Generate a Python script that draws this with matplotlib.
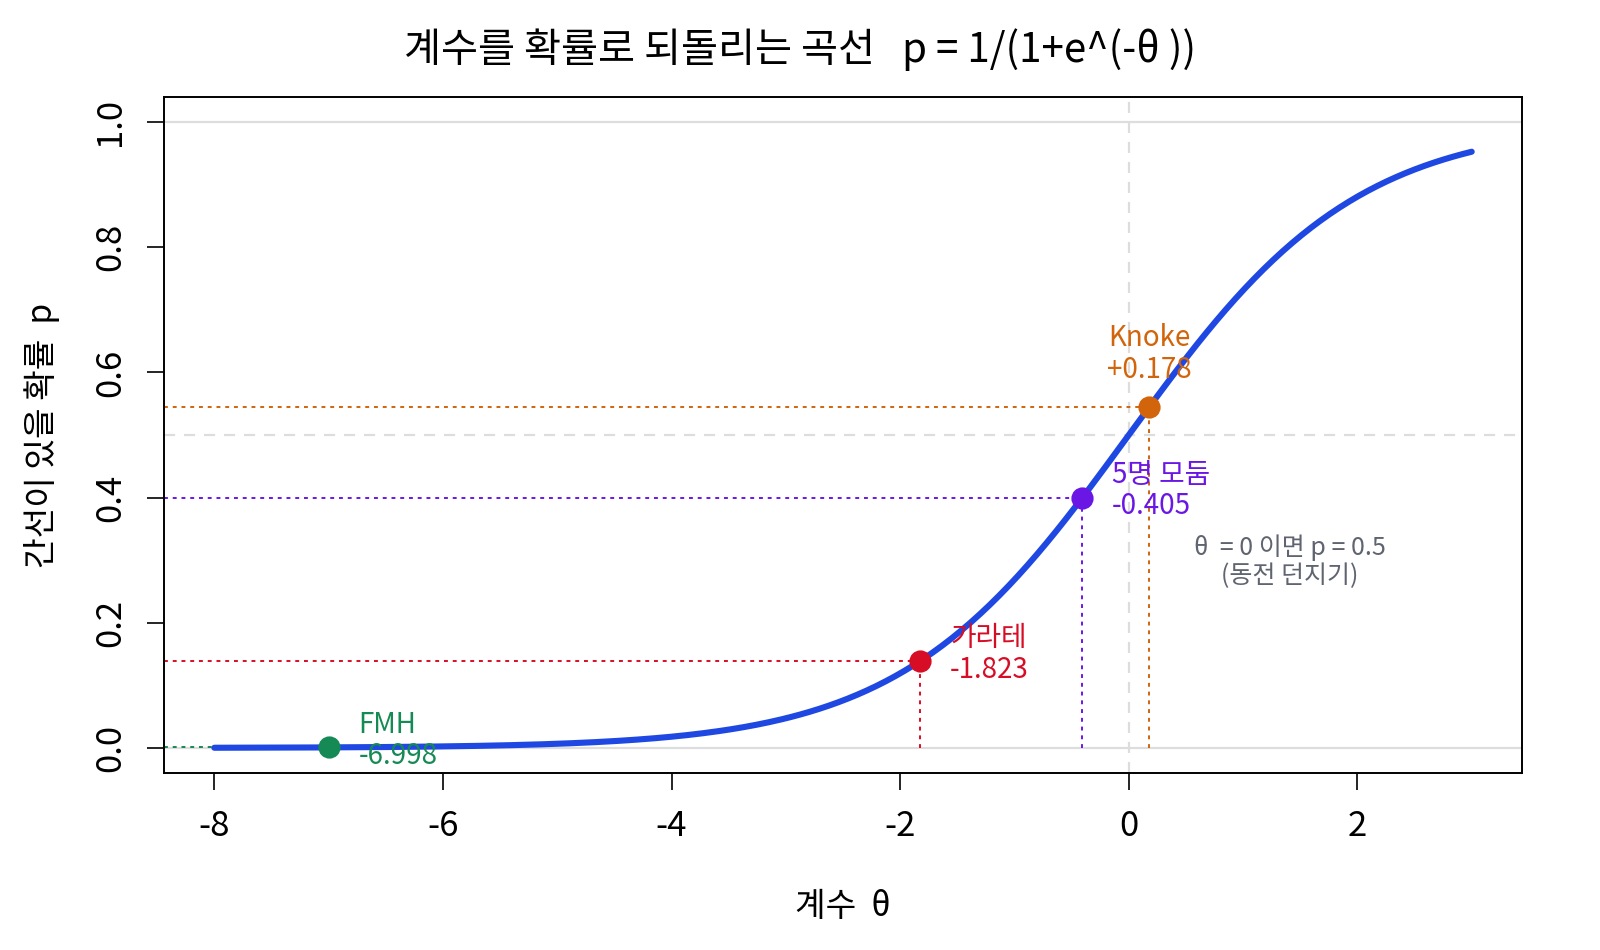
import matplotlib
matplotlib.use('Agg')
import matplotlib.pyplot as plt
import numpy as np

plt.rcParams['font.family'] = ['Noto Sans CJK KR', 'DejaVu Sans']
plt.rcParams['axes.unicode_minus'] = False

# 데이터
names = ['FMH', '가라테', '5명 모둠', 'Knoke']
thetas = [-6.998, -1.823, -0.405, 0.178]
labels = ['-6.998', '-1.823', '-0.405', '+0.178']
colors = ['#168a55', '#d70d26', '#6a17e6', '#d2640c']
x_ticks = [-8, -6, -4, -2, 0, 2]
y_ticks = [0.0, 0.2, 0.4, 0.6, 0.8, 1.0]
curve_from, curve_to = -8, 3

def logistic(t):
    return 1.0 / (1.0 + np.exp(-t))

fig = plt.figure(figsize=(8, 4.75), dpi=200)
ax = fig.add_axes([164/1600, 1 - 773/950, (1522-164)/1600, (773-97)/950])
xlo, xhi = -8.44, 3.44
ax.set_xlim(xlo, xhi)
ax.set_ylim(-0.04, 1.04)

# 참조선
ax.axhline(0, color='#dddddd', lw=0.8, zorder=1)
ax.axhline(1, color='#dddddd', lw=0.8, zorder=1)
ax.axhline(0.5, color='#dddddd', lw=0.8, ls=(0, (5, 4)), zorder=1)
ax.axvline(0, color='#dddddd', lw=0.8, ls=(0, (5, 4)), zorder=1)

# 곡선
xs = np.linspace(curve_from, curve_to, 400)
ax.plot(xs, logistic(xs), color='#1f48e3', lw=2.2, zorder=3, solid_capstyle='round')

# 점과 보조선
for name, t, lab, c in zip(names, thetas, labels, colors):
    p = logistic(t)
    ax.plot([xlo, t], [p, p], color=c, lw=0.7, ls=(0, (2, 2.5)), zorder=2)
    ax.plot([t, t], [0, p], color=c, lw=0.7, ls=(0, (2, 2.5)), zorder=2)
    ax.plot(t, p, 'o', color=c, ms=7, zorder=4)
    if name == 'Knoke':
        ax.text(t, p + 0.085, name + '\n' + lab, color=c, fontsize=10,
                ha='center', va='center', linespacing=1.05, zorder=5)
    else:
        ax.text(t + 0.26, p + 0.011, name + '\n' + lab, color=c, fontsize=10,
                ha='left', va='center', linespacing=1.05, zorder=5)

ax.text(1.41, 0.297, 'θ  = 0 이면 p = 0.5\n(동전 던지기)', color='#5f6470',
        fontsize=9, ha='center', va='center', linespacing=1.1)

ax.set_xticks(x_ticks)
ax.set_xticklabels([str(v) for v in x_ticks])
ax.set_yticks(y_ticks)
ax.set_yticklabels(['%.1f' % v for v in y_ticks], rotation=90, va='center')
ax.tick_params(axis='both', length=6, width=0.6, labelsize=12.5, pad=7)
for s in ax.spines.values():
    s.set_linewidth(0.7)

ax.set_xlabel('계수  θ', fontsize=12, labelpad=16)
ax.set_ylabel('간선이 있을 확률  p', fontsize=12, labelpad=12)
fig.text(0.5, 1 - 50/950, '계수를 확률로 되돌리는 곡선   p = 1/(1+e^(-θ ))',
         fontsize=14.5, ha='center', va='center')

fig.savefig('out.png', dpi=200, facecolor='white')
